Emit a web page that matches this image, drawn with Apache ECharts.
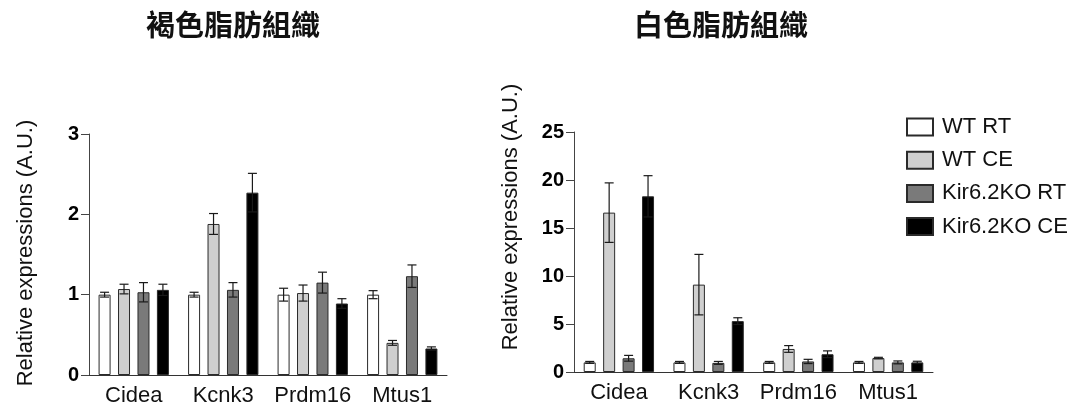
<!DOCTYPE html>
<html>
<head>
<meta charset="utf-8">
<title></title>
<script src="https://cdn.jsdelivr.net/npm/echarts@6/dist/echarts.min.js"></script>
<style>
  html, body { margin: 0; padding: 0; background: #fff; }
  #chart { width: 1073px; height: 412px; }
</style>
</head>
<body>
<div id="chart"></div>
<script type="text/javascript">
// 数据
var categories = ['Cidea', 'Kcnk3', 'Prdm16', 'Mtus1'];
var groupNames = ['WT RT', 'WT CE', 'Kir6.2KO RT', 'Kir6.2KO CE'];

// 褐色脂肪組織
var batWtRt = [1.00, 1.00, 1.00, 1.00];
var batWtCe = [1.07, 1.88, 1.02, 0.40];
var batKoRt = [1.03, 1.06, 1.15, 1.23];
var batKoCe = [1.06, 2.27, 0.89, 0.33];
var batWtRtErr = [0.03, 0.03, 0.08, 0.05];
var batWtCeErr = [0.06, 0.13, 0.10, 0.03];
var batKoRtErr = [0.12, 0.09, 0.13, 0.14];
var batKoCeErr = [0.07, 0.24, 0.06, 0.02];

// 白色脂肪組織
var watWtRt = [1.00, 1.00, 1.00, 1.00];
var watWtCe = [16.6, 9.1, 2.4, 1.45];
var watKoRt = [1.43, 0.95, 1.10, 1.00];
var watKoCe = [18.3, 5.3, 1.85, 1.00];
var watWtRtErr = [0.10, 0.10, 0.10, 0.10];
var watWtCeErr = [3.10, 3.15, 0.35, 0.08];
var watKoRtErr = [0.30, 0.15, 0.22, 0.15];
var watKoCeErr = [2.15, 0.35, 0.35, 0.12];

var batTicks = [0, 1, 2, 3];
var watTicks = [0, 5, 10, 15, 20, 25];

var colors = ['#ffffff', '#cfcfcf', '#7a7a7a', '#000000'];
var latin = '"Liberation Sans", Arial, sans-serif';
var barW = 12;
var pitch = 19.44;

function errData(means, errs) {
	var out = [];
	for (var i = 0; i < means.length; i++) {
		out.push([i, means[i] - errs[i], means[i] + errs[i]]);
	}
	return out;
}

function errRender(offset) {
	return function (params, api) {
		var lo = api.coord([api.value(0), api.value(1)]);
		var hi = api.coord([api.value(0), api.value(2)]);
		var x = lo[0] + offset;
		var hw = 4.5;
		var st = { stroke: '#1a1a1a', lineWidth: 1.2 };
		return {
			type: 'group',
			children: [
				{ type: 'line', shape: { x1: x, y1: hi[1], x2: x, y2: lo[1] }, style: st },
				{ type: 'line', shape: { x1: x - hw, y1: hi[1], x2: x + hw, y2: hi[1] }, style: st },
				{ type: 'line', shape: { x1: x - hw, y1: lo[1], x2: x + hw, y2: lo[1] }, style: st }
			]
		};
	};
}

function barSeries(name, data, idx, axisIdx) {
	return {
		name: name,
		type: 'bar',
		xAxisIndex: axisIdx,
		yAxisIndex: axisIdx,
		data: data,
		barWidth: barW,
		barGap: '62%',
		itemStyle: { color: colors[idx], borderColor: '#2a2a2a', borderWidth: 1 },
		emphasis: { disabled: true }
	};
}

function errSeries(means, errs, idx, axisIdx) {
	return {
		type: 'custom',
		xAxisIndex: axisIdx,
		yAxisIndex: axisIdx,
		renderItem: errRender((idx - 1.5) * pitch),
		encode: { x: 0, y: [1, 2] },
		data: errData(means, errs),
		z: 5,
		silent: true
	};
}

function xAxisOpt(grid) {
	return {
		type: 'category',
		gridIndex: grid,
		data: categories,
		axisLine: { lineStyle: { color: '#333', width: 1 } },
		axisTick: { alignWithLabel: true, length: 8, lineStyle: { color: '#333' } },
		axisLabel: { interval: 0, color: '#111', fontSize: 22, fontFamily: latin, margin: 10 }
	};
}

function yAxisOpt(grid, ticks) {
	return {
		type: 'value',
		gridIndex: grid,
		min: ticks[0],
		max: ticks[ticks.length - 1],
		interval: ticks[1] - ticks[0],
		splitLine: { show: false },
		axisLine: { show: true, lineStyle: { color: '#444', width: 1 } },
		axisTick: { show: true, length: 8, lineStyle: { color: '#444' } },
		axisLabel: { color: '#000', fontSize: 20, fontWeight: 'bold', fontFamily: latin, margin: 10 }
	};
}

var chart = echarts.init(document.getElementById('chart'));

var series = [
	barSeries(groupNames[0], batWtRt, 0, 0),
	barSeries(groupNames[1], batWtCe, 1, 0),
	barSeries(groupNames[2], batKoRt, 2, 0),
	barSeries(groupNames[3], batKoCe, 3, 0),
	barSeries(groupNames[0], watWtRt, 0, 1),
	barSeries(groupNames[1], watWtCe, 1, 1),
	barSeries(groupNames[2], watKoRt, 2, 1),
	barSeries(groupNames[3], watKoCe, 3, 1),
	errSeries(batWtRt, batWtRtErr, 0, 0),
	errSeries(batWtCe, batWtCeErr, 1, 0),
	errSeries(batKoRt, batKoRtErr, 2, 0),
	errSeries(batKoCe, batKoCeErr, 3, 0),
	errSeries(watWtRt, watWtRtErr, 0, 1),
	errSeries(watWtCe, watWtCeErr, 1, 1),
	errSeries(watKoRt, watKoRtErr, 2, 1),
	errSeries(watKoCe, watKoCeErr, 3, 1)
];

var titleStyle = { fontFamily: '"Noto Sans CJK TC", sans-serif', fontSize: 29, fontWeight: 'bold', color: '#111' };

var option = {
	animation: false,
	backgroundColor: '#fff',
	title: [
		{ text: '褐色脂肪組織', left: 141, top: 5, textStyle: titleStyle },
		{ text: '白色脂肪組織', left: 629, top: 5, textStyle: titleStyle }
	],
	legend: {
		data: groupNames,
		orient: 'vertical',
		left: 901,
		top: 111,
		icon: 'rect',
		itemWidth: 26,
		itemHeight: 17,
		itemGap: 11.2,
		selectedMode: false,
		textStyle: { fontFamily: latin, fontSize: 22, color: '#111', lineHeight: 18, padding: [0, 0, 0, 4] }
	},
	grid: [
		{ left: 89, right: 626, top: 134, bottom: 37 },
		{ left: 574, right: 140, top: 132, bottom: 40 }
	],
	xAxis: [xAxisOpt(0), xAxisOpt(1)],
	yAxis: [yAxisOpt(0, batTicks), yAxisOpt(1, watTicks)],
	graphic: [
		{ type: 'text', x: 26, y: 253, rotation: Math.PI / 2,
		  style: { text: 'Relative expressions (A.U.)', fontFamily: latin, fontSize: 22, fill: '#111',
		           align: 'center', verticalAlign: 'middle' } },
		{ type: 'text', x: 511, y: 217, rotation: Math.PI / 2,
		  style: { text: 'Relative expressions (A.U.)', fontFamily: latin, fontSize: 22, fill: '#111',
		           align: 'center', verticalAlign: 'middle' } }
	],
	series: series
};

chart.setOption(option);
</script>
</body>
</html>
